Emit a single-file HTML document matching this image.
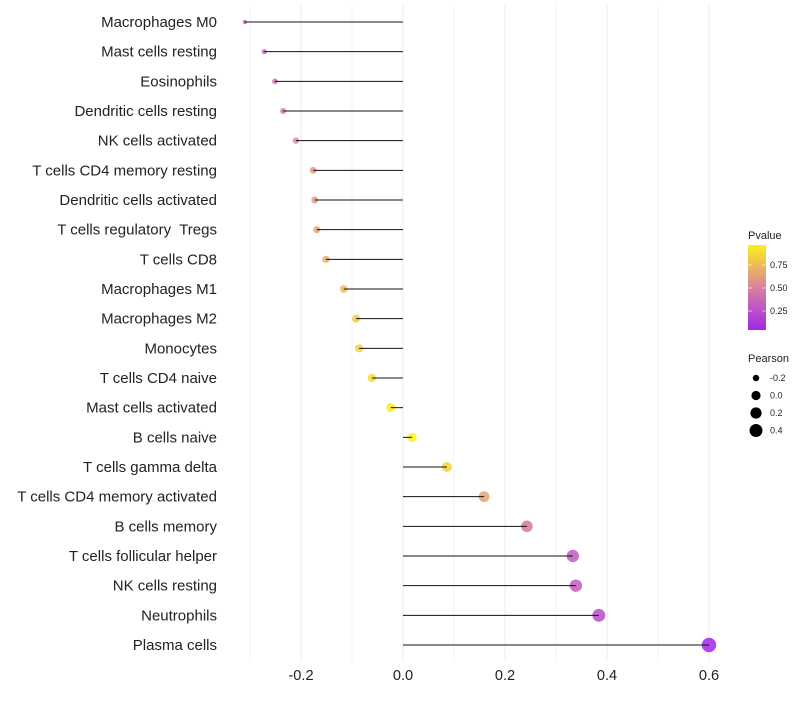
<!DOCTYPE html>
<html><head><meta charset="utf-8"><style>
body{margin:0;background:#fff;font-family:"Liberation Sans",sans-serif;}
</style></head><body>
<svg id="chart" width="800" height="700" xmlns="http://www.w3.org/2000/svg"></svg>
<script>
const categories=["Macrophages M0","Mast cells resting","Eosinophils","Dendritic cells resting","NK cells activated","T cells CD4 memory resting","Dendritic cells activated","T cells regulatory  Tregs","T cells CD8","Macrophages M1","Macrophages M2","Monocytes","T cells CD4 naive","Mast cells activated","B cells naive","T cells gamma delta","T cells CD4 memory activated","B cells memory","T cells follicular helper","NK cells resting","Neutrophils","Plasma cells"];
const pearson=[-0.31,-0.272,-0.251,-0.235,-0.21,-0.176,-0.173,-0.169,-0.151,-0.116,-0.092,-0.086,-0.061,-0.024,0.018,0.086,0.159,0.243,0.333,0.339,0.384,0.6];
const pvalue=[0.3,0.38,0.42,0.47,0.55,0.62,0.63,0.64,0.68,0.76,0.83,0.84,0.9,0.96,0.99,0.85,0.66,0.45,0.3,0.3,0.22,0.03];
const xTicks=[-0.2,0,0.2,0.4,0.6];
const xTickLabels=["-0.2","0.0","0.2","0.4","0.6"];
const sizeLegend=[-0.2,0.0,0.2,0.4];
const sizeLegendLabels=["-0.2","0.0","0.2","0.4"];
const colorTicks=[0.25,0.5,0.75];

const svg=document.getElementById('chart');
const NS="http://www.w3.org/2000/svg";
const x=v=>403+v*510;
const y=i=>22+i*(623/21);
const r=v=>Math.sqrt(Math.max(2.2,21+v*52));
function lerp(a,b,t){return Math.round(a+(b-a)*t);}
function color(p){
  const s=[[0,[160,32,240]],[0.5,[217,128,160]],[1,[255,245,20]]];
  p=Math.max(0,Math.min(1,p));
  const k=p<0.5?0:1;const t=(p-s[k][0])/0.5;
  const c=s[k][1].map((v,j)=>lerp(v,s[k+1][1][j],t));
  return `rgb(${c[0]},${c[1]},${c[2]})`;
}
function el(tag,attrs,parent){const e=document.createElementNS(NS,tag);for(const k in attrs)e.setAttribute(k,attrs[k]);(parent||svg).appendChild(e);return e;}

for(let v=-0.3;v<=0.61;v+=0.1){
  const g=el('line',{x1:x(v),x2:x(v),y1:5,y2:662,stroke:'#ebebeb','stroke-width':Math.abs(Math.round(v*10)%2)===0?1:0.6});
  
  
}
xTicks.forEach((v,i)=>{
  const t=el('text',{x:x(v),y:680,'text-anchor':'middle','font-size':14.6,fill:'#222'});
  t.textContent=xTickLabels[i];
  
  
});
categories.forEach((c,i)=>{
  const t=el('text',{x:217,y:y(i)+5,'text-anchor':'end','font-size':15,fill:'#222',style:'white-space:pre'});
  t.textContent=c;
  
  
  const pt=el('circle',{cx:x(pearson[i]),cy:y(i),r:r(pearson[i]),fill:color(pvalue[i]),'fill-opacity':0.85});
  
  
  const ln=el('line',{x1:x(0),x2:x(pearson[i]),y1:y(i),y2:y(i),stroke:'#111','stroke-width':1});
  
  
});
const defs=el('defs',{});
const lg=el('linearGradient',{id:'pg',x1:0,y1:1,x2:0,y2:0},defs);
[0,0.25,0.5,0.75,1].forEach(o=>el('stop',{offset:o,'stop-color':color(0.03+o*0.95)},lg));
const lt=el('text',{x:748,y:239,'font-size':11,fill:'#222'});lt.textContent='Pvalue';


const bar=el('rect',{x:748,y:245,width:18,height:85,fill:'url(#pg)'});


const cy=p=>334-p*92;
colorTicks.forEach(p=>{
  el('line',{x1:748,x2:752,y1:cy(p),y2:cy(p),stroke:'#fff','stroke-width':0.6});
  el('line',{x1:762,x2:766,y1:cy(p),y2:cy(p),stroke:'#fff','stroke-width':0.6});
  const t=el('text',{x:770,y:cy(p)+3,'font-size':9,fill:'#222'});t.textContent=p.toFixed(2);
  
  
});
const st=el('text',{x:748,y:362,'font-size':11,fill:'#222'});st.textContent='Pearson';


sizeLegend.forEach((v,i)=>{
  const yy=378+i*17.5;
  const c=el('circle',{cx:756,cy:yy,r:r(v),fill:'#000'});
  
  
  const t=el('text',{x:770,y:yy+3,'font-size':9,fill:'#222'});t.textContent=sizeLegendLabels[i];
  
  
});
</script>
</body></html>
